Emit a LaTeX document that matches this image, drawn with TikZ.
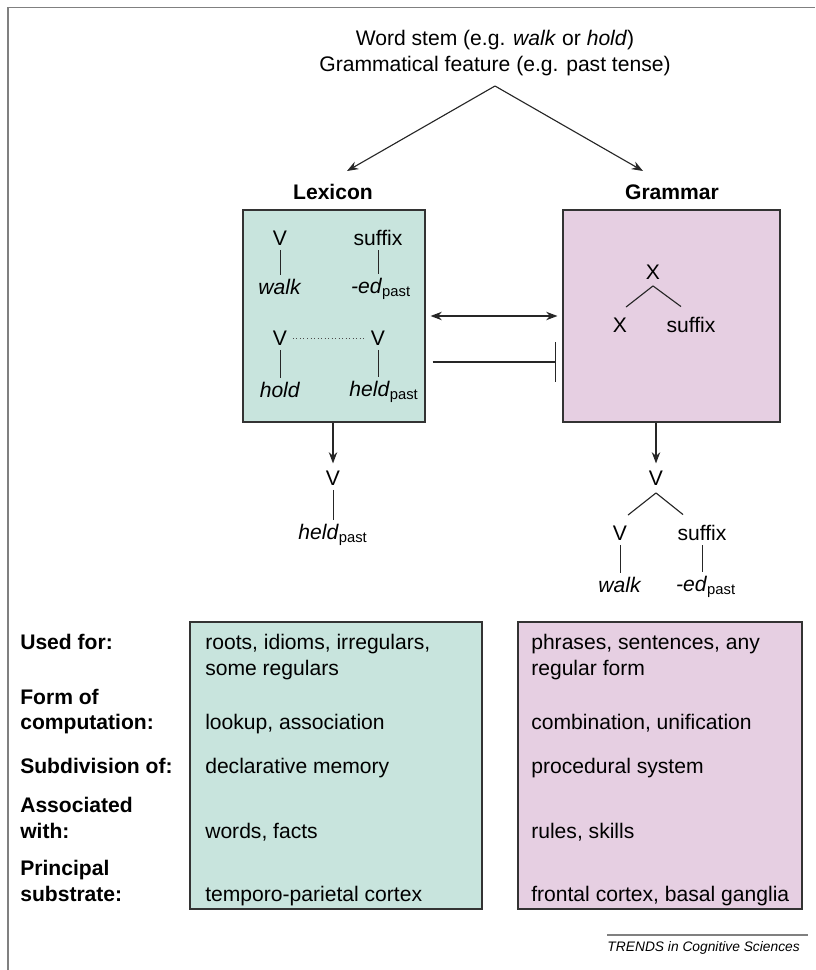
\documentclass[tikz,border=0pt]{standalone}
\usepackage{fontspec}
\setmainfont{Liberation Sans}
\usepackage{tikz}
\usetikzlibrary{arrows.meta, calc, positioning}
\definecolor{lexteal}{RGB}{200,228,221}
\definecolor{grampink}{RGB}{230,207,226}
\definecolor{framegray}{RGB}{128,128,128}

\begin{document}
\begin{tikzpicture}[x=0.025cm, y=-0.025cm,
    txt/.style={font=\fontsize{15}{18}\selectfont, inner sep=1pt},
    hd/.style={font=\fontsize{15}{18}\selectfont\bfseries, inner sep=1pt},
    row/.style={font=\fontsize{15}{18}\selectfont, anchor=west, inner sep=0pt, text height=11pt, text depth=3pt},
    rowhd/.style={row, font=\fontsize{15}{18}\selectfont\bfseries},
    lexbox/.style={draw=black!80, fill=lexteal, line width=0.9pt, inner sep=0pt},
    grambox/.style={draw=black!80, fill=grampink, line width=0.9pt, inner sep=0pt},
    conn/.style={line width=0.8pt, black!85},
    stem/.style={line width=0.7pt, black!85, shorten <=2pt, shorten >=2pt},
    arr/.style={conn, -{Stealth[length=8pt, width=6pt]}}]
        \useasboundingbox (0,0) rectangle (815,970);
        % Frame
        \draw[framegray, line width=1.4pt] (8,970) -- (8,7.5) -- (815,7.5);
        % Input
        \node[txt] (stemtxt) at (495,40) {Word stem (e.g. \textit{walk} or \textit{hold})};
        \node[txt] (feat) at (495,66) {Grammatical feature (e.g. past tense)};
        \coordinate (split) at (495,86);
        \coordinate (lexin) at (347,171);
        \coordinate (gramin) at (643,171);
        \draw[arr] (split) -- (lexin);
        \draw[arr] (split) -- (gramin);
        % Boxes and headings
        \node[lexbox, minimum width=4.55cm, minimum height=5.3cm] (lex) at (334,316) {};
        \node[grambox, minimum width=5.425cm, minimum height=5.3cm] (gram) at (671.5,316) {};
        \node[hd] (lexhd) at (333,192) {Lexicon};
        \node[hd] (gramhd) at (672,192) {Grammar};
        % Lexicon entries
        \node[txt] (lv1) at (280,238) {V};
        \node[txt] (lsuf) at (378,238) {suffix};
        \node[txt] (lwalk) at (280,287) {\textit{walk}};
        \node[txt] (led) at (381,289) {\textit{-ed}\textsubscript{past}};
        \draw[stem] (lv1.south) -- (lwalk.north);
        \draw[stem] (lsuf.south) -- (lsuf.south |- led.north);
        \node[txt] (lv2) at (280,338) {V};
        \node[txt] (lv3) at (378,338) {V};
        \node[txt] (lhold) at (280,390) {\textit{hold}};
        \node[txt] (lheld) at (384,392) {\textit{held}\textsubscript{past}};
        \draw[black!70, line width=0.5pt, dotted, shorten <=3pt, shorten >=3pt] (lv2.east) -- (lv3.west);
        \draw[stem] (lv2.south) -- (lhold.north);
        \draw[stem] (lv3.south) -- (lv3.south |- lheld.north);
        % Interaction between the two systems
        \draw[conn, {Stealth[length=8pt, width=6pt]}-{Stealth[length=8pt, width=6pt]},
              shorten <=3.5pt, shorten >=3.5pt] (lex.east) -- (gram.west);
        \draw[conn, -{Bar[width=28pt, line width=1.1pt]}] ($(lex.east)+(7,46)$) -- ($(gram.west)+(-6,46)$);
        % Grammar rule
        \node[txt] (gx) at (653,272) {X};
        \node[txt] (gxl) at (620,325) {X};
        \node[txt] (gsuf) at (691,325) {suffix};
        \draw[conn] ($(gx.south)+(0,5)$) -- ($(gxl.north)+(6,-9)$);
        \draw[conn] ($(gx.south)+(0,5)$) -- ($(gsuf.north)+(-10,-9)$);
        % Outputs
        \node[txt] (lvout) at (333,478) {V};
        \node[txt] (lheldout) at (333,535) {\textit{held}\textsubscript{past}};
        \draw[arr, shorten >=4pt] (lvout |- lex.south) -- (lvout.north);
        \draw[stem] (lvout.south) -- (lheldout.north);
        \node[txt] (gvout) at (656,478) {V};
        \node[txt] (gvl) at (620,533) {V};
        \node[txt] (gsufo) at (702,533) {suffix};
        \node[txt] (gwalk) at (620,585) {\textit{walk}};
        \node[txt] (gedo) at (706,587) {\textit{-ed}\textsubscript{past}};
        \draw[arr, shorten >=4pt] (gvout |- gram.south) -- (gvout.north);
        \draw[conn] ($(gvout.south)+(0,6)$) -- ($(gvl.north)+(8,-9)$);
        \draw[conn] ($(gvout.south)+(0,6)$) -- ($(gsufo.north)+(-19,-9)$);
        \draw[stem] (gvl.south) -- (gwalk.north);
        \draw[stem] (gsufo.south) -- (gsufo.south |- gedo.north);
        % Comparison table
        \node[lexbox, minimum width=7.3cm, minimum height=7.175cm] (lextab) at (336,765.5) {};
        \node[grambox, minimum width=7.1cm, minimum height=7.175cm] (gramtab) at (660,765.5) {};
        \node[rowhd] (usedhd) at (20,644) {Used for:};
        \node[rowhd] (formhd) at (20,699) {Form of};
        \node[rowhd] (comphd) at (20,724) {computation:};
        \node[rowhd] (subhd) at (20,768) {Subdivision of:};
        \node[rowhd] (assochd) at (20,807) {Associated};
        \node[rowhd] (withhd) at (20,833) {with:};
        \node[rowhd] (princhd) at (20,870) {Principal};
        \node[rowhd] (substhd) at (20,896) {substrate:};
        \node[row] (lexused) at (205,644) {roots, idioms, irregulars,};
        \node[row] (lexused2) at (205,670) {some regulars};
        \node[row] (lexcomp) at (205,724) {lookup, association};
        \node[row] (lexsub) at (205,768) {declarative memory};
        \node[row] (lexassoc) at (205,833) {words, facts};
        \node[row] (lexsubst) at (205,896) {temporo-parietal cortex};
        \node[row] (gramused) at (531,644) {phrases, sentences, any};
        \node[row] (gramused2) at (531,670) {regular form};
        \node[row] (gramcomp) at (531,724) {combination, unification};
        \node[row] (gramsub) at (531,768) {procedural system};
        \node[row] (gramassoc) at (531,833) {rules, skills};
        \node[row] (gramsubst) at (531,896) {frontal cortex, basal ganglia};
        % Source
        \node[font=\fontsize{9.8}{12}\selectfont\itshape, anchor=east, inner sep=0pt] (trends) at (800,948) {TRENDS in Cognitive Sciences};
        \draw[framegray, line width=1.2pt] ($(trends.north west)+(0,-6)$) -- ($(trends.north east)+(8,-6)$);
\end{tikzpicture}
\end{document}
